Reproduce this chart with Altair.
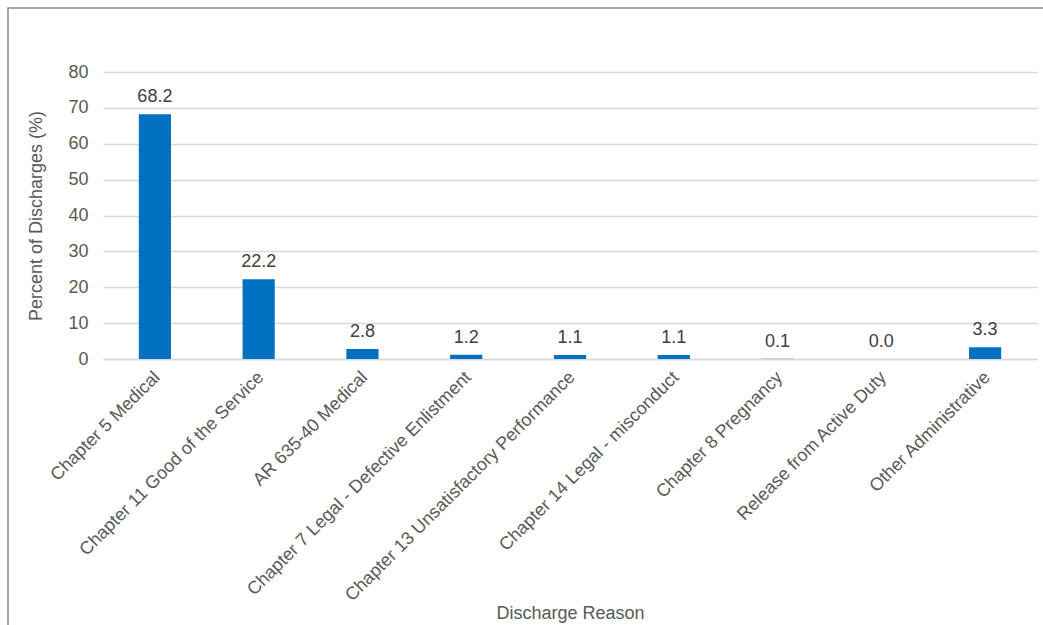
import altair as alt
import pandas as pd

categories = [
    "Chapter 5 Medical",
    "Chapter 11 Good of the Service",
    "AR 635-40 Medical",
    "Chapter 7 Legal - Defective Enlistment",
    "Chapter 13 Unsatisfactory Performance",
    "Chapter 14 Legal - misconduct",
    "Chapter 8 Pregnancy",
    "Release from Active Duty",
    "Other Administrative",
]
values = [68.2, 22.2, 2.8, 1.2, 1.1, 1.1, 0.1, 0.0, 3.3]
value_labels = ["68.2", "22.2", "2.8", "1.2", "1.1", "1.1", "0.1", "0.0", "3.3"]
y_ticks = [0, 10, 20, 30, 40, 50, 60, 70, 80]

df = pd.DataFrame({"reason": categories, "pct": values, "label": value_labels})

FONT = "Liberation Sans"
GREY = "#595959"
FS = 18

x_scale = alt.Scale(paddingInner=0.69, paddingOuter=0.345)
y_scale = alt.Scale(domain=[0, 80], nice=False)

x_enc = alt.X(
    "reason:N",
    sort=None,
    scale=x_scale,
    axis=alt.Axis(
        title="Discharge Reason",
        labelAngle=-45,
        labelFontSize=FS,
        labelColor=GREY,
        labelFont=FONT,
        labelLimit=500,
        labelPadding=9,
        labelOffset=-4,
        labelOverlap=False,
        ticks=False,
        domainColor="#d9d9d9",
        domainWidth=1.5,
        titleFont=FONT,
        titleFontSize=FS,
        titleFontWeight="normal",
        titleColor=GREY,
        titleY=254,
        titleBaseline="middle",
        grid=False,
    ),
)
y_enc = alt.Y(
    "pct:Q",
    scale=y_scale,
    axis=alt.Axis(
        title="Percent of Discharges (%)",
        values=y_ticks,
        labelFontSize=FS,
        labelColor=GREY,
        labelFont=FONT,
        labelPadding=15,
        labelOverlap=False,
        ticks=False,
        domain=False,
        gridColor="#d9d9d9",
        gridWidth=1.5,
        titleFont=FONT,
        titleFontSize=FS,
        titleFontWeight="normal",
        titleColor=GREY,
        titlePadding=22,
    ),
)

bars = alt.Chart(df).mark_bar(color="#0070C0").encode(x=x_enc, y=y_enc)
texts = alt.Chart(df).mark_text(
    font=FONT, fontSize=FS, color="#404040", baseline="alphabetic", dy=-12
).encode(x=x_enc, y=y_enc, text="label:N")

border = alt.Chart(alt.Data(values=[{}])).mark_rect(
    fill=None, stroke="#8c8c8c", strokeWidth=1.5
).encode(
    x=alt.value(-95), x2=alt.value(990), y=alt.value(-64), y2=alt.value(700)
)

chart = alt.layer(border, bars, texts).properties(
    width=934,
    height=287,
    autosize=alt.AutoSizeParams(type="none"),
    padding={"left": 103, "top": 72, "right": 6, "bottom": 266},
).configure(background="white").configure_view(strokeWidth=0)

chart.save("out.html", embed_options={"renderer": "svg", "actions": False})
